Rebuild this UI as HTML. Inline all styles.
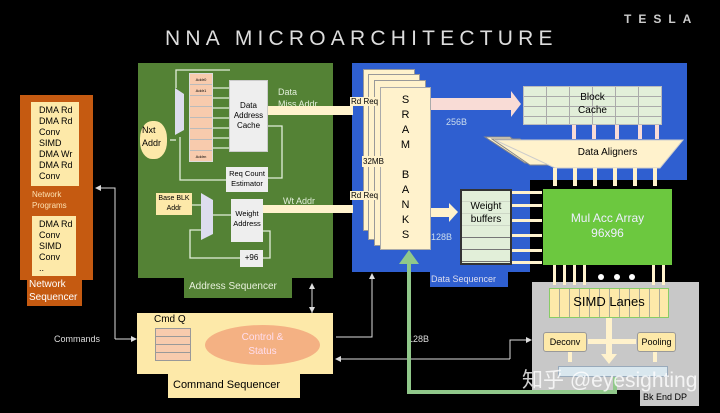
<!DOCTYPE html>
<html><head><meta charset="utf-8"><style>
body{margin:0;background:#000;width:720px;height:413px;overflow:hidden;position:relative;font-family:"Liberation Sans",sans-serif}
div{position:absolute;box-sizing:border-box}
.t{color:#000;font-size:9px;line-height:11px}
</style></head><body>
<div style="left:165px;top:27px;color:#ddd;font-size:21px;letter-spacing:5.2px">NNA MICROARCHITECTURE</div>
<div style="left:624px;top:12px;color:#ccc;font-size:12px;letter-spacing:7px;font-weight:bold">TESLA</div>

<!-- Network sequencer -->
<div style="left:20px;top:95px;width:73px;height:185px;background:#c55a11"></div>
<div style="left:27px;top:278px;width:55px;height:28px;background:#c55a11;color:#fff;font-size:10px;line-height:13px;padding-left:2px">Network<br>Sequencer</div>
<div class="t" style="left:31px;top:102px;width:48px;height:84px;background:#fde9a9;padding:3px 0 0 8px">DMA Rd<br>DMA Rd<br>Conv<br>SIMD<br>DMA Wr<br>DMA Rd<br>Conv</div>
<div style="left:32px;top:189px;color:#fde0b0;font-size:8px;line-height:11px">Network<br>Programs</div>
<div class="t" style="left:32px;top:216px;width:44px;height:60px;background:#fde9a9;padding:3px 0 0 7px">DMA Rd<br>Conv<br>SIMD<br>Conv<br>..</div>

<!-- Address sequencer -->
<div style="left:138px;top:63px;width:195px;height:215px;background:#548235"></div>
<div style="left:184px;top:278px;width:108px;height:20px;background:#548235;color:#e8f0dc;font-size:10px;padding:3px 0 0 5px">Address Sequencer</div>
<div style="left:189px;top:73px;width:24px;height:89px;background:#f8cbad;border:1px solid #ddd;background-image:linear-gradient(transparent 10px,#bbb 10px,#bbb 11px,transparent 11px);background-size:100% 11px;font-size:4px;text-align:center;line-height:11px">Addr0<br>Addr1<br><br><br><br><br><br>Addrn</div>
<div style="left:229px;top:80px;width:39px;height:72px;background:#eee;border:1px solid #ccc;font-size:8px;text-align:center;padding-top:20px;line-height:10px">Data<br>Address<br>Cache</div>
<div style="left:226px;top:167px;width:42px;height:25px;background:#eee;font-size:7.5px;text-align:center;padding-top:2px;line-height:10px">Req Count<br>Estimator</div>
<div style="left:156px;top:193px;width:36px;height:22px;background:#fde9a9;font-size:7px;text-align:center;padding-top:1px;line-height:10px">Base BLK<br>Addr</div>
<div style="left:231px;top:199px;width:32px;height:43px;background:#eee;font-size:7.5px;text-align:center;padding-top:10px;line-height:10px">Weight<br>Address</div>
<div style="left:240px;top:250px;width:23px;height:17px;background:#eee;font-size:8px;text-align:center;padding-top:3px">+96</div>
<div style="left:140px;top:121px;width:27px;height:38px;background:#fde9a9;border-radius:45%;font-size:9px;padding:3px 0 0 2px;line-height:13px">Nxt<br>Addr</div>
<div style="left:278px;top:86px;color:#e2efd9;font-size:9px;line-height:12px">Data<br>Miss Addr</div>
<div style="left:283px;top:196px;color:#e2efd9;font-size:9px">Wt Addr</div>

<!-- Data sequencer -->
<div style="left:352px;top:63px;width:335px;height:117px;background:#2f5fd0"></div>
<div style="left:352px;top:180px;width:178px;height:92px;background:#2f5fd0"></div>
<div style="left:430px;top:272px;width:78px;height:15px;background:#2f5fd0;color:#dde;font-size:9px;padding:2px 0 0 1px">Data Sequencer</div>
<div style="left:363px;top:69px;width:52px;height:162px;background:#fff2cc;border:1px solid #999"></div>
<div style="left:368px;top:74px;width:52px;height:166px;background:#fff2cc;border:1px solid #999"></div>
<div style="left:374px;top:80px;width:52px;height:166px;background:#fff2cc;border:1px solid #999"></div>
<div style="left:380px;top:87px;width:51px;height:163px;background:#fff2cc;border:1px solid #aaa;font-size:11px;text-align:center;line-height:15px;padding-top:5px">S<br>R<br>A<br>M<br><br>B<br>A<br>N<br>K<br>S</div>
<div style="left:350px;top:97px;background:#fff2cc;font-size:8px;padding:0 1px">Rd Req</div>
<div style="left:350px;top:191px;background:#fff2cc;font-size:8px;padding:0 1px">Rd Req</div>
<div style="left:362px;top:156px;background:#fff2cc;font-size:8px;padding:1px">32MB</div>
<div style="left:446px;top:117px;color:#cde;font-size:9px">256B</div>
<div style="left:431px;top:232px;color:#cde;font-size:9px">128B</div>
<div style="left:523px;top:86px;width:139px;height:39px;background:#e2efd9;border:1px solid #bbb;background-image:linear-gradient(90deg,transparent 22px,#aaa 22px,#aaa 23px,transparent 23px),linear-gradient(transparent 9px,#aaa 9px,#aaa 10px,transparent 10px);background-size:23px 100%,100% 10px;font-size:10px;text-align:center;padding-top:4px;line-height:13px">Block<br>Cache</div>
<svg style="position:absolute;left:0;top:0" width="720" height="413">
<polygon points="485,137 510,137 545,163 525,163" fill="#fff2cc" stroke="#888"/>
<polygon points="492,139 520,139 552,165 530,165" fill="#fff2cc" stroke="#888"/>
<polygon points="495,140 683,140 660,168 555,168" fill="#fff2cc" stroke="#ccc"/>
</svg>
<div style="left:555px;top:147px;width:105px;font-size:10px;text-align:center">Data Aligners</div>
<div style="left:460px;top:189px;width:52px;height:76px;background:#e2efd9;border:2px solid #333;background-image:linear-gradient(transparent 10px,#777 10px,#777 11px,transparent 11px);background-size:100% 12px;"></div>
<div style="left:462px;top:200px;width:48px;font-size:10px;text-align:center;line-height:13px;background:rgba(226,239,217,.8)">Weight<br>buffers</div>
<div style="left:543px;top:189px;width:129px;height:76px;background:#6cc83f;color:#eef;font-size:12px;text-align:center;padding-top:22px;line-height:15px">Mul Acc Array<br>96x96</div>

<!-- Bk End DP -->
<div style="left:532px;top:282px;width:167px;height:108px;background:#c8c8c8"></div>
<div style="left:640px;top:390px;width:59px;height:16px;background:#c8c8c8;font-size:9px;padding:2px 0 0 3px">Bk End DP</div>
<div style="left:549px;top:288px;width:120px;height:30px;background:#fde9a9;border:1px solid #8c6;background-image:linear-gradient(90deg,transparent 9px,#aa9 9px,#aa9 10px,transparent 10px);background-size:10px 100%;"></div>
<div style="left:549px;top:294px;width:120px;text-align:center;font-size:13px">SIMD Lanes</div>
<div style="left:543px;top:332px;width:44px;height:20px;background:#fde9a9;border:1px solid #999;border-radius:3px;font-size:9px;text-align:center;padding-top:4px">Deconv</div>
<div style="left:637px;top:332px;width:39px;height:20px;background:#fde9a9;border:1px solid #999;border-radius:3px;font-size:9px;text-align:center;padding-top:4px">Pooling</div>
<div style="left:558px;top:366px;width:110px;height:11px;background:#d9e7ee;border:1px solid #9ab"></div>

<!-- Command sequencer -->
<div style="left:137px;top:313px;width:196px;height:61px;background:#fde9a9"></div>
<div style="left:168px;top:374px;width:132px;height:24px;background:#fde9a9;font-size:11px;padding:5px 0 0 5px">Command Sequencer</div>
<div style="left:154px;top:314px;font-size:10px">Cmd Q</div>
<div style="left:155px;top:328px;width:36px;height:33px;background:#f8cbad;border:1px solid #999;background-image:linear-gradient(transparent 7px,#999 7px,#999 8px,transparent 8px);background-size:100% 8px"></div>
<div style="left:205px;top:325px;width:115px;height:40px;background:#f4b183;border-radius:50%;color:#fde;font-size:10px;text-align:center;padding-top:6px;line-height:14px">Control &amp;<br>Status</div>
<div style="left:54px;top:334px;color:#ddd;font-size:9px">Commands</div>
<div style="left:408px;top:334px;color:#ddd;font-size:9px">128B</div>

<svg style="position:absolute;left:0;top:0" width="720" height="413">
<defs><marker id="a" markerWidth="6" markerHeight="6" refX="5" refY="3" orient="auto"><path d="M0,0L6,3L0,6z" fill="#ddd"/></marker></defs>
<g stroke="#ddd" stroke-width="1" fill="none">
<path d="M115,339V188H96" marker-end="url(#a)"/>
<path d="M115,339H136" marker-end="url(#a)"/>
<path d="M312,313V284" marker-end="url(#a)"/>
<path d="M312,290V312" marker-end="url(#a)"/>
<path d="M336,337H372V274" marker-end="url(#a)"/>
<path d="M510,359H336" marker-end="url(#a)"/>
<path d="M510,359V340H531" marker-end="url(#a)"/>
</g>
<g stroke="#e2efd9" stroke-width="1.3" fill="none">
<path d="M176,88V70H230"/><path d="M170,140H176"/>
<path d="M180,137V160M180,160V180H226"/>
<path d="M268,126H282V178H268"/>
<path d="M213,88H229M213,98H229M213,108H229M213,118H229M213,128H229M213,138H229M213,148H229"/>
<path d="M192,205H201M213,215H231M263,231H270V258H263M240,258H190V230H201"/>
</g>
<polygon points="175,88 184,94 184,130 175,135" fill="#dde" />
<polygon points="201,193 213,200 213,234 201,240" fill="#dde"/>
<g fill="#fff2cc">
<rect x="268" y="106" width="85" height="9"/><rect x="263" y="205" width="90" height="8"/>
<rect x="431" y="208" width="18" height="9"/><polygon points="449,203 458,212 449,222"/>
</g>
<rect x="431" y="98" width="80" height="12" fill="#f9dcd6"/><polygon points="511,91 521,104 511,117" fill="#f9dcd6"/>
<g fill="#f9dcd6">
<rect x="572" y="125" width="4" height="14"/><rect x="592" y="125" width="4" height="14"/><rect x="615" y="125" width="4" height="14"/><rect x="638" y="125" width="4" height="14"/><rect x="655" y="125" width="4" height="14"/>
</g>
<g fill="#fff2cc">
<rect x="553" y="168" width="4" height="18"/><rect x="573" y="168" width="4" height="18"/><rect x="593" y="168" width="4" height="18"/><rect x="613" y="168" width="4" height="18"/><rect x="633" y="168" width="4" height="18"/><rect x="653" y="168" width="4" height="18"/>
<rect x="512" y="191" width="30" height="3"/><rect x="512" y="204" width="30" height="3"/><rect x="512" y="219" width="30" height="3"/><rect x="512" y="234" width="30" height="3"/><rect x="512" y="249" width="30" height="3"/><rect x="512" y="261" width="30" height="3"/>
<rect x="553" y="265" width="3" height="20"/><rect x="563" y="265" width="3" height="20"/><rect x="573" y="265" width="3" height="20"/><rect x="583" y="265" width="3" height="20"/><rect x="652" y="265" width="3" height="20"/><rect x="662" y="265" width="3" height="20"/>
<rect x="606" y="318" width="6" height="38"/><polygon points="601,354 617,354 609,364"/>
<rect x="588" y="339" width="48" height="5"/>
<rect x="568" y="352" width="4" height="10"/><rect x="653" y="352" width="4" height="10"/>
</g>
<circle cx="601" cy="277" r="3" fill="#fff"/><circle cx="617" cy="277" r="3" fill="#fff"/><circle cx="632" cy="277" r="3" fill="#fff"/>
<path d="M615,377V392H409V262" stroke="#90c88a" stroke-width="4" fill="none"/>
<polygon points="399,264 409,250 419,264" fill="#90c88a"/>
</svg>
<div style="left:522px;top:364px;color:rgba(255,255,255,.8);font-size:21px;font-family:'Liberation Sans','Noto Sans CJK SC',sans-serif">知乎 @eyesighting</div>
</body></html>
